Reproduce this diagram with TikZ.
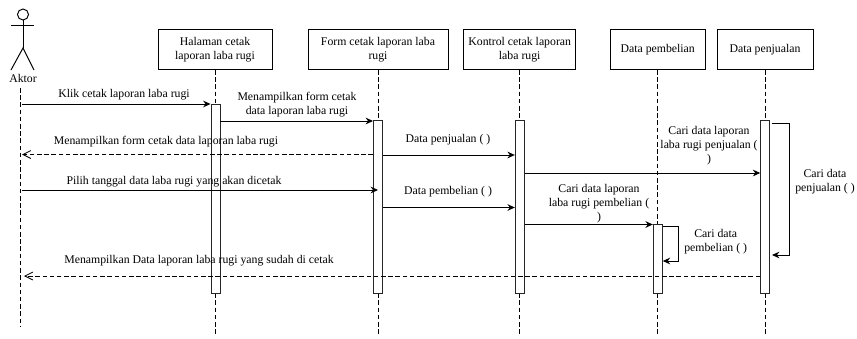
\documentclass[tikz,border=0pt]{standalone}
\usepackage{fontspec}
\setmainfont{Liberation Serif}
\usepackage{tikz}
\usetikzlibrary{arrows.meta, positioning}
\tikzset{
    header/.style={
        rectangle,
        draw=black,
        line width=0.55pt,
        minimum height=0.8cm,
        inner sep=0pt,
        align=center,
        fill=white,
        font=\fontsize{6.7}{8}\selectfont
    },
    activation/.style={
        rectangle,
        draw=black!85,
        line width=0.55pt,
        minimum width=0.18cm,
        inner sep=0pt,
        fill=white
    },
    lifeline/.style={
        draw=black,
        line width=0.5pt,
        dash pattern=on 2.6pt off 1.5pt
    },
    wire/.style={
        draw=black,
        line width=0.55pt,
        -{Stealth[length=4.2pt,width=3.8pt]}
    },
    returnwire/.style={
        draw=black,
        line width=0.5pt,
        dash pattern=on 2.6pt off 1.5pt,
        -{Straight Barb[length=4.5pt,width=4.5pt]}
    },
    msg/.style={
        align=center,
        inner sep=0pt,
        font=\fontsize{6.7}{8}\selectfont
    }
}
\begin{document}
\begin{tikzpicture}[x=0.02cm, y=-0.02cm]
\useasboundingbox (0,0) rectangle (857,338);

% Actor
\node[circle, draw=black, line width=0.55pt, minimum size=0.22cm, inner sep=0pt] (head) at (23,14.5) {};
\coordinate (hip) at (23,48);
\coordinate (armL) at (11,25);
\coordinate (armR) at (34,25);
\coordinate (footL) at (11,70);
\coordinate (footR) at (34,70);
\draw[line width=0.55pt] (head.south) -- (hip);
\draw[line width=0.55pt] (armL) -- (armR);
\draw[line width=0.55pt] (footL) -- (hip) -- (footR);
\node[msg] (aktor) at (23,78.5) {Aktor};

% Object boxes
\node[header, minimum width=2.28cm] (halaman) at (215,49.5) {Halaman cetak\\laporan laba rugi};
\node[header, minimum width=2.8cm] (form) at (378,49.5) {Form cetak laporan laba\\rugi};
\node[header, minimum width=2.24cm] (kontrol) at (519.7,49.5) {Kontrol cetak laporan\\laba rugi};
\node[header, minimum width=1.9cm] (pembelian) at (657.7,49.5) {Data pembelian};
\node[header, minimum width=1.92cm] (penjualan) at (765,49.5) {Data penjualan};

% Lifelines
\coordinate (endAktor) at (20.5,327);
\coordinate (startAktor) at (20.5,88);
\draw[lifeline] (startAktor) -- (endAktor);
\coordinate (endHalaman) at (215,334);
\coordinate (endForm) at (378,336);
\coordinate (endKontrol) at (519.7,336);
\coordinate (endPembelian) at (657.7,334);
\coordinate (endPenjualan) at (765,334);
\draw[lifeline] (halaman) -- (endHalaman);
\draw[lifeline] (form) -- (endForm);
\draw[lifeline] (kontrol) -- (endKontrol);
\draw[lifeline] (pembelian) -- (endPembelian);
\draw[lifeline] (penjualan) -- (endPenjualan);

% Activations
\node[activation, minimum height=3.79cm] (actHalaman) at (215.5,198.8) {};
\node[activation, minimum height=3.45cm] (actForm) at (378,207.2) {};
\node[activation, minimum height=3.45cm] (actKontrol) at (519.8,207.2) {};
\node[activation, minimum height=1.38cm] (actPembelian) at (657.8,259) {};
\node[activation, minimum height=3.45cm] (actPenjualan) at (765.2,207.2) {};

% Message heights
\coordinate (m1) at (0,104);
\coordinate (m2) at (0,121);
\coordinate (m3) at (0,154.5);
\coordinate (m4) at (0,155);
\coordinate (m5) at (0,190);
\coordinate (m6) at (0,207.5);
\coordinate (m7) at (0,173);
\coordinate (m8) at (0,224.5);
\coordinate (m9) at (0,226.5);
\coordinate (m10) at (0,261);
\coordinate (m11) at (0,123);
\coordinate (m12) at (0,255);
\coordinate (m13) at (0,276);
\coordinate (loopPembelian) at (678.7,0);
\coordinate (loopPenjualan) at (789.7,0);
\coordinate (selfPenjualan) at (772,0);
\coordinate (startKlik) at (22,0);
\coordinate (endBack) at (24,0);

% Messages
\draw[wire] (startKlik |- m1) -- (actHalaman.west |- m1);
\draw[wire] (actHalaman.east |- m2) -- (actForm.west |- m2);
\draw[returnwire] (actForm.west |- m3) -- (startKlik |- m3);
\draw[wire] (actForm.east |- m4) -- (actKontrol.west |- m4);
\draw[wire] (startKlik |- m5) -- (actForm |- m5);
\draw[wire] (actForm.east |- m6) -- (actKontrol.west |- m6);
\draw[wire] (actKontrol.east |- m7) -- (actPenjualan.west |- m7);
\draw[wire] (actKontrol.east |- m8) -- (actPembelian.west |- m8);

% Self calls
\draw[wire] (actPembelian.east |- m9) -- (loopPembelian |- m9) -- (loopPembelian |- m10) -- (actPembelian.east |- m10);
\draw[wire] (selfPenjualan |- m11) -- (loopPenjualan |- m11) -- (loopPenjualan |- m12) -- (selfPenjualan |- m12);

% Return
\draw[returnwire] (actPenjualan.west |- m13) -- (endBack |- m13);

% Labels
\node[msg] (l1) at (124,95) {Klik cetak laporan laba rugi};
\node[msg] (l2) at (297,105) {Menampilkan form cetak\\data laporan laba rugi};
\node[msg] (l3) at (166,142) {Menampilkan form cetak data laporan laba rugi};
\node[msg] (l4) at (448,140) {Data penjualan ( )};
\node[msg] (l5) at (174,182) {Pilih tanggal data laba rugi yang akan dicetak};
\node[msg] (l6) at (448,192) {Data pembelian ( )};
\node[msg] (l7) at (709,146) {Cari data laporan\\laba rugi penjualan (\\)};
\node[msg] (l8) at (599,204) {Cari data laporan\\laba rugi pembelian (\\)};
\node[msg] (l9) at (715.7,242) {Cari data\\pembelian ( )};
\node[msg] (l10) at (825,182) {Cari data\\penjualan ( )};
\node[msg] (l11) at (199,260.5) {Menampilkan Data laporan laba rugi yang sudah di cetak};

\end{tikzpicture}
\end{document}
